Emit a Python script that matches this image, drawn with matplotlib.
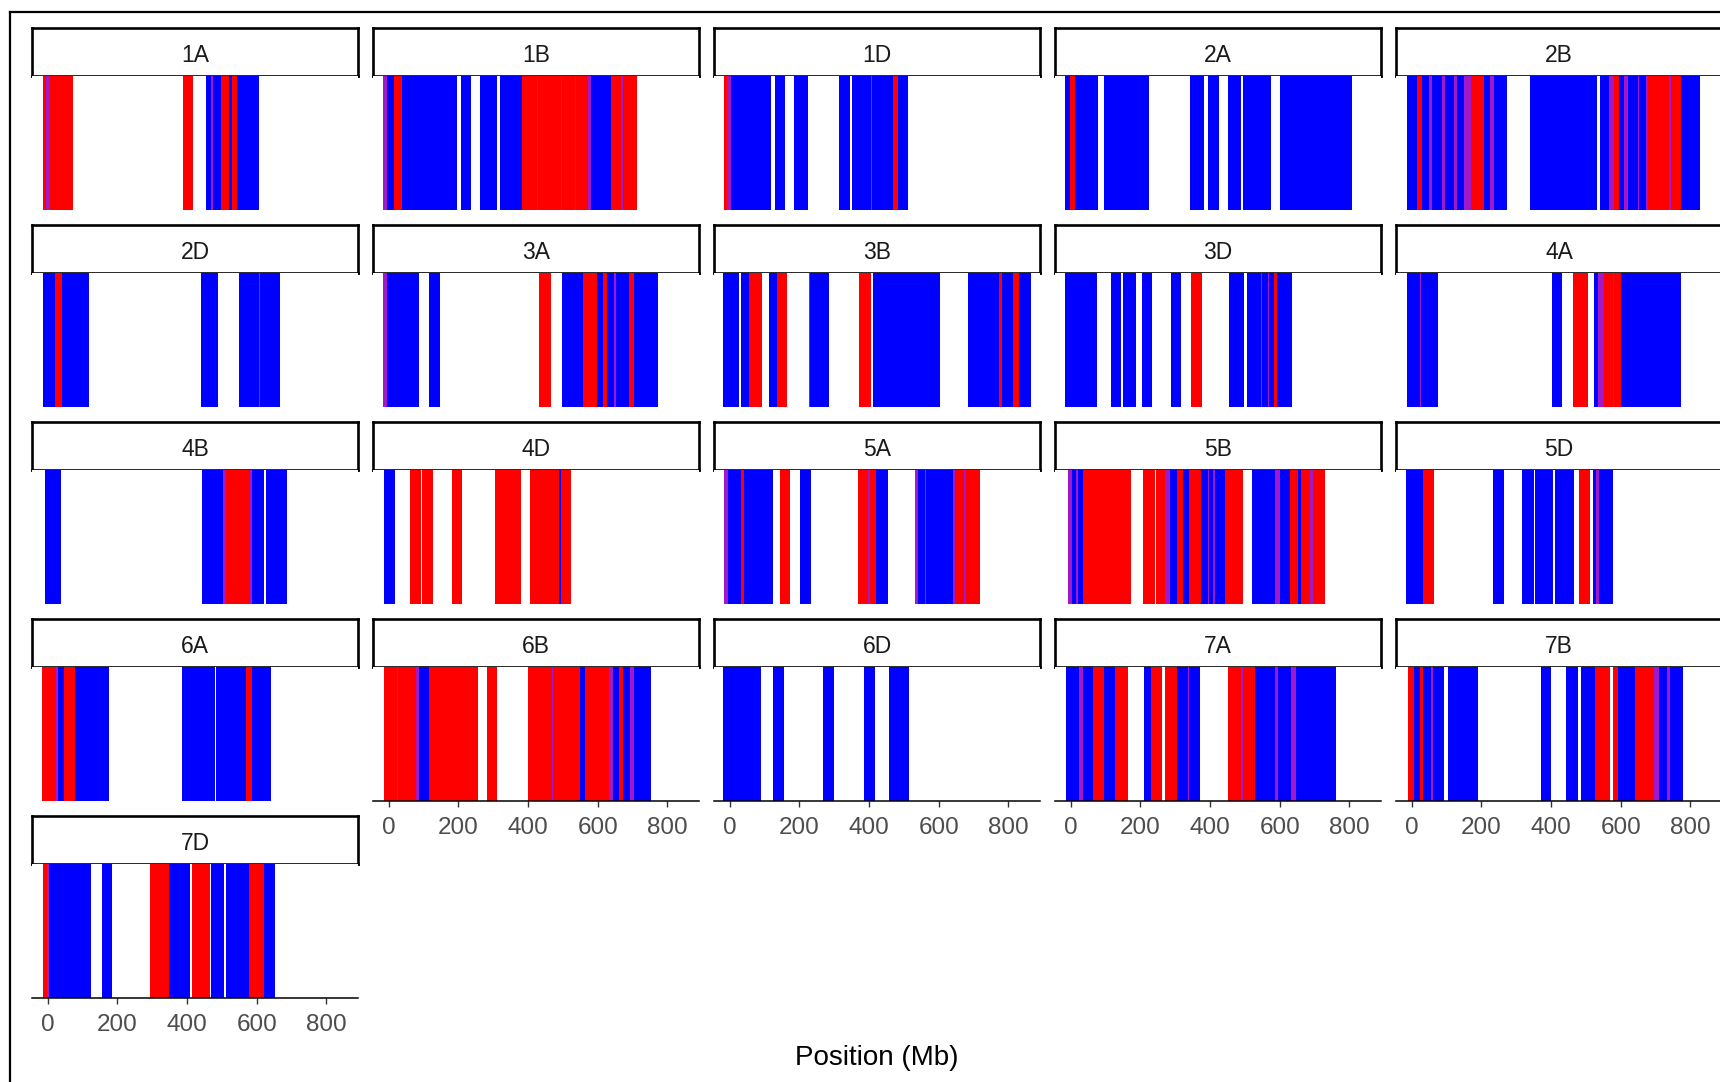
import matplotlib
matplotlib.use("Agg")
import matplotlib.pyplot as plt
from matplotlib.lines import Line2D

# segments per chromosome: (start Mb, end Mb, class)  R = red, B = blue, P = mixed boundary
c1A = [(-13, -6, 'R'), (-6, 6, 'P'), (6, 73, 'R'), (389, 418, 'R'),
       (455, 470, 'B'), (470, 474, 'P'), (474, 498, 'B'), (498, 521, 'R'),
       (521, 528, 'B'), (528, 545, 'R'), (545, 607, 'B')]
c1B = [(-15, -6, 'P'), (-6, 15, 'B'), (15, 39, 'R'), (39, 195, 'B'), (207, 236, 'B'),
       (263, 311, 'B'), (320, 384, 'B'), (384, 425, 'R'), (425, 428, 'P'), (428, 445, 'R'),
       (445, 494, 'R'), (494, 497, 'P'), (497, 535, 'R'), (535, 538, 'P'), (538, 571, 'R'),
       (571, 580, 'P'), (580, 638, 'B'), (638, 667, 'R'), (667, 672, 'P'), (672, 713, 'R')]
c1D = [(-15, -7, 'R'), (-7, 4, 'P'), (4, 118, 'B'), (129, 159, 'B'), (185, 224, 'B'),
       (314, 346, 'B'), (352, 406, 'B'), (406, 409, 'P'), (409, 468, 'B'), (468, 483, 'R'),
       (483, 511, 'B')]
c2A = [(-15, -2, 'B'), (-2, 12, 'R'), (12, 79, 'B'), (97, 224, 'B'), (344, 382, 'B'),
       (393, 425, 'B'), (453, 490, 'B'), (496, 576, 'B'), (602, 808, 'B')]
c2B = [(-13, 14, 'B'), (14, 30, 'R'), (30, 50, 'B'), (50, 59, 'P'), (59, 88, 'B'),
       (88, 97, 'P'), (97, 121, 'B'), (121, 131, 'P'), (131, 150, 'B'), (150, 169, 'P'),
       (169, 208, 'R'), (208, 225, 'B'), (225, 235, 'P'), (235, 273, 'B'), (340, 390, 'B'),
       (392, 436, 'B'), (436, 438, 'P'), (438, 532, 'B'), (541, 567, 'B'), (567, 581, 'P'),
       (581, 596, 'R'), (596, 610, 'B'), (610, 622, 'P'), (622, 649, 'B'), (649, 653, 'P'),
       (653, 673, 'B'), (673, 678, 'P'), (678, 740, 'R'), (740, 745, 'P'), (745, 773, 'R'),
       (773, 829, 'B')]
c2D = [(-13, 20, 'B'), (20, 40, 'R'), (40, 119, 'B'), (440, 490, 'B'), (548, 607, 'B'),
       (607, 611, 'P'), (611, 667, 'B')]
c3A = [(-16, -6, 'P'), (-6, 88, 'B'), (116, 148, 'B'), (433, 466, 'R'), (498, 558, 'B'),
       (558, 598, 'R'), (598, 614, 'B'), (614, 627, 'R'), (627, 647, 'B'), (647, 653, 'P'),
       (653, 690, 'B'), (690, 704, 'R'), (704, 772, 'B')]
c3B = [(-19, 28, 'B'), (33, 56, 'B'), (56, 94, 'R'), (112, 135, 'B'), (135, 165, 'R'),
       (228, 232, 'P'), (232, 286, 'B'), (372, 406, 'R'), (411, 604, 'B'), (683, 773, 'B'),
       (773, 782, 'R'), (782, 814, 'B'), (814, 832, 'R'), (832, 864, 'B')]
c3D = [(-15, 75, 'B'), (116, 144, 'B'), (150, 187, 'B'), (206, 234, 'B'), (288, 318, 'B'),
       (346, 378, 'R'), (456, 499, 'B'), (505, 546, 'B'), (546, 550, 'P'), (550, 566, 'B'),
       (566, 569, 'P'), (569, 584, 'B'), (584, 593, 'R'), (593, 636, 'B')]
c4A = [(-13, 25, 'B'), (25, 27, 'P'), (27, 76, 'B'), (404, 433, 'B'), (462, 507, 'R'),
       (524, 534, 'B'), (534, 553, 'P'), (553, 577, 'R'), (577, 580, 'P'), (580, 601, 'R'),
       (601, 773, 'B')]
c4B = [(-7, 37, 'B'), (444, 504, 'B'), (504, 511, 'P'), (511, 581, 'R'), (581, 587, 'P'),
       (587, 621, 'B'), (626, 688, 'B')]
c4D = [(-12, 17, 'B'), (62, 92, 'R'), (95, 127, 'R'), (181, 211, 'R'), (306, 380, 'R'),
       (405, 488, 'R'), (488, 494, 'B'), (494, 524, 'R')]
c5A = [(-15, -5, 'P'), (-5, 32, 'B'), (32, 41, 'R'), (41, 125, 'B'), (144, 174, 'R'),
       (202, 234, 'B'), (368, 398, 'R'), (398, 404, 'P'), (404, 421, 'R'), (421, 455, 'B'),
       (533, 540, 'P'), (540, 560, 'B'), (560, 565, 'P'), (565, 642, 'B'), (642, 648, 'P'),
       (648, 673, 'R'), (673, 678, 'P'), (678, 720, 'R')]
c5B = [(-8, 4, 'P'), (4, 14, 'B'), (14, 20, 'P'), (20, 35, 'B'), (35, 174, 'R'),
       (207, 241, 'R'), (244, 270, 'R'), (270, 284, 'P'), (284, 306, 'B'), (306, 322, 'R'),
       (322, 341, 'B'), (341, 375, 'R'), (375, 394, 'B'), (394, 398, 'P'), (398, 409, 'B'),
       (409, 413, 'P'), (413, 444, 'B'), (444, 495, 'R'), (522, 586, 'B'), (586, 600, 'P'),
       (600, 629, 'B'), (629, 653, 'R'), (653, 662, 'B'), (662, 686, 'R'), (686, 696, 'P'),
       (696, 730, 'R')]
c5D = [(-15, 32, 'B'), (32, 64, 'R'), (234, 266, 'B'), (316, 350, 'B'), (355, 406, 'B'),
       (411, 466, 'B'), (481, 513, 'R'), (522, 530, 'B'), (530, 537, 'P'), (537, 578, 'B')]
c6A = [(-16, 24, 'R'), (24, 30, 'P'), (30, 46, 'B'), (46, 79, 'R'), (79, 176, 'B'),
       (385, 479, 'B'), (483, 568, 'B'), (568, 587, 'R'), (587, 640, 'B')]
c6B = [(-13, 25, 'R'), (25, 28, 'P'), (28, 79, 'R'), (79, 88, 'P'), (88, 115, 'B'),
       (115, 257, 'R'), (281, 310, 'R'), (400, 469, 'R'), (469, 473, 'P'), (473, 550, 'R'),
       (550, 564, 'B'), (564, 634, 'R'), (634, 644, 'P'), (644, 660, 'B'), (660, 673, 'R'),
       (673, 693, 'B'), (693, 704, 'P'), (704, 752, 'B')]
c6D = [(-19, 90, 'B'), (125, 155, 'B'), (267, 299, 'B'), (387, 417, 'B'), (458, 514, 'B')]
c7A = [(-13, 25, 'B'), (25, 35, 'P'), (35, 63, 'B'), (63, 97, 'R'), (97, 126, 'B'),
       (126, 164, 'R'), (210, 231, 'B'), (231, 263, 'R'), (270, 306, 'R'), (306, 336, 'B'),
       (336, 341, 'P'), (341, 372, 'B'), (452, 490, 'R'), (490, 494, 'P'), (494, 530, 'R'),
       (530, 588, 'B'), (588, 595, 'P'), (595, 634, 'B'), (634, 648, 'P'), (648, 763, 'B')]
c7B = [(-11, 8, 'R'), (8, 25, 'B'), (25, 32, 'R'), (32, 55, 'B'), (55, 60, 'P'),
       (60, 94, 'B'), (103, 191, 'B'), (372, 400, 'B'), (443, 477, 'B'), (486, 527, 'B'),
       (527, 570, 'R'), (578, 593, 'R'), (593, 640, 'B'), (640, 696, 'R'), (696, 709, 'P'),
       (709, 733, 'B'), (733, 743, 'P'), (743, 780, 'B')]
c7D = [(-13, -3, 'R'), (-3, 4, 'P'), (4, 125, 'B'), (156, 186, 'B'), (294, 347, 'R'),
       (347, 409, 'B'), (415, 466, 'R'), (468, 506, 'B'), (513, 578, 'B'), (578, 620, 'R'),
       (620, 653, 'B')]

chrom_names = ["1A", "1B", "1D", "2A", "2B",
               "2D", "3A", "3B", "3D", "4A",
               "4B", "4D", "5A", "5B", "5D",
               "6A", "6B", "6D", "7A", "7B",
               "7D"]
chrom_segs = [c1A, c1B, c1D, c2A, c2B, c2D, c3A, c3B, c3D, c4A,
              c4B, c4D, c5A, c5B, c5D, c6A, c6B, c6D, c7A, c7B, c7D]
x_ticks = [0, 200, 400, 600, 800]

colours = {"R": "#ff0000", "B": "#0000ff", "P": "#a018c8"}

plt.rcParams['font.family'] = ['Liberation Sans', 'DejaVu Sans']

W, H = 1720, 1082
fig = plt.figure(figsize=(W / 100, H / 100), dpi=100)


def fig_rect(x, y, w, h):
    # pixel box measured from the top-left corner -> figure fraction
    return [x / W, 1 - (y + h) / H, w / W, h / H]


ncol = 5
col_left = [32 + 341 * i for i in range(ncol)]
row_top = [27.7 + 197 * r for r in range(5)]
panel_w, strip_h, panel_h = 326, 48, 134
n = len(chrom_names)

for k, (name, segs) in enumerate(zip(chrom_names, chrom_segs)):
    r, c = divmod(k, ncol)
    x0, y0 = col_left[c], row_top[r]

    # strip label
    sax = fig.add_axes(fig_rect(x0, y0, panel_w, strip_h))
    sax.set_xticks([])
    sax.set_yticks([])
    for sp in sax.spines.values():
        sp.set_linewidth(1.9)
        sp.set_color("black")
    sax.text(0.5, 0.42, name, ha="center", va="center", fontsize=16.5,
             color="#1a1a1a", transform=sax.transAxes)

    # panel
    ax = fig.add_axes(fig_rect(x0, y0 + strip_h, panel_w, panel_h))
    for s, e, cl in segs:
        ax.axvspan(s, e, ymin=0, ymax=1, color=colours[cl], lw=0)
    ax.set_xlim(-45, 891)
    ax.set_ylim(0, 1)
    ax.set_yticks([])
    for side in ["top", "right", "left"]:
        ax.spines[side].set_visible(False)

    # bottom-most panel in each column carries the x axis
    is_bottom = k + ncol >= n
    if is_bottom:
        ax.spines["bottom"].set_linewidth(1.1)
        ax.spines["bottom"].set_color("black")
        ax.set_xticks(x_ticks)
        ax.set_xticklabels([str(t) for t in x_ticks])
        ax.tick_params(axis="x", length=4.5, width=1, color="#333333",
                       labelsize=17.5, labelcolor="#4d4d4d", pad=7)
    else:
        ax.spines["bottom"].set_visible(False)
        ax.set_xticks([])

fig.text(877 / W, 1 - 1058 / H, "Position (Mb)", ha="center", va="center",
         fontsize=20, color="black")

# outer frame (left and top edges)
fig.add_artist(Line2D([10 / W, 10 / W], [0, 1 - 12 / H], transform=fig.transFigure,
                      color="black", lw=1.6))
fig.add_artist(Line2D([10 / W, 1], [1 - 12 / H, 1 - 12 / H], transform=fig.transFigure,
                      color="black", lw=1.6))

fig.savefig("out.png", dpi=100, facecolor="white")
